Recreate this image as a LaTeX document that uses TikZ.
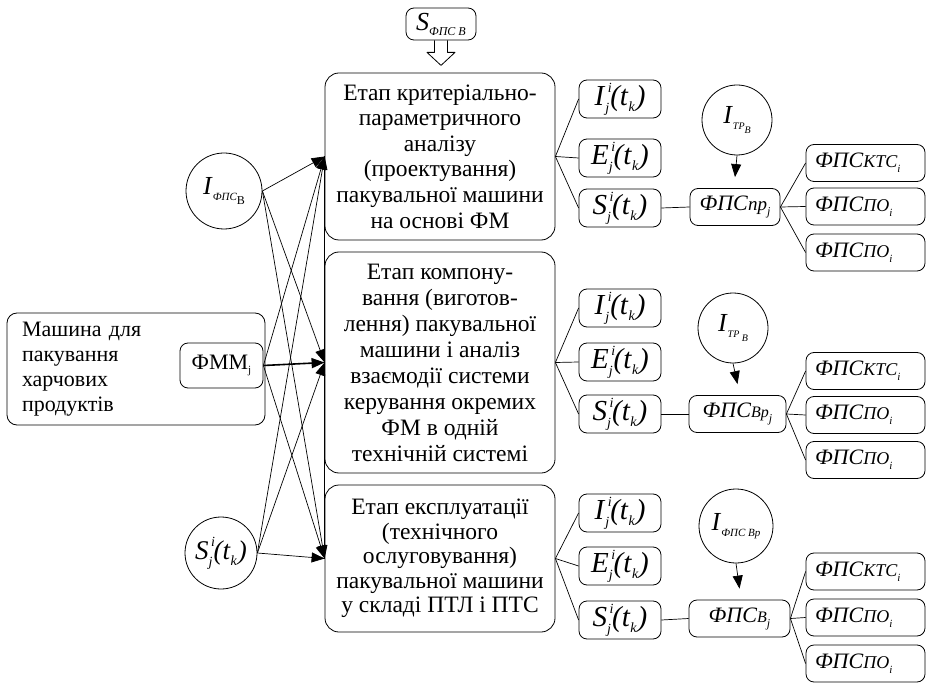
\documentclass[tikz,border=0pt]{standalone}
\usepackage{fontspec}
\setmainfont{Liberation Serif}
\usetikzlibrary{arrows.meta}

% small italic text of a given size
\newcommand{\smit}[2]{{\fontsize{#1}{#1}\selectfont\itshape #2}}
% X^i_j(t_k)
\newcommand{\ijtk}[1]{\textit{#1}\rlap{\kern2.5pt\raisebox{13pt}{\smit{14}{i}}}\raisebox{-7pt}{\smit{14}{j}}\kern1pt\textit{(t}\raisebox{-6pt}{\smit{14}{k}}\kern1pt\textit{)}}

\tikzset{
  box/.style={draw, line width=0.8pt, rounded corners=8pt, inner sep=0pt},
  stagebox/.style={box, rounded corners=14pt, minimum width=230, align=center,
                   font=\fontsize{23.5}{25.6}\selectfont},
  ijbox/.style={box, minimum width=82, minimum height=38, font=\fontsize{29}{29}\selectfont},
  fpsbox/.style={box, minimum height=37, font=\fontsize{22}{22}\selectfont},
  outbox/.style={box, minimum width=119, minimum height=37, text width=101, inner xsep=9pt,
                 align=left, font=\fontsize{22}{22}\selectfont},
  circ/.style={draw, line width=0.8pt, circle, inner sep=0pt, font=\fontsize{26}{26}\selectfont},
  conn/.style={line width=0.7pt},
  arr/.style={conn, -{Triangle[length=13pt,width=10pt]}},
}

\begin{document}
\begin{tikzpicture}[x=1pt,y=-1pt,line join=round]
\useasboundingbox (0,0) rectangle (928,684);

% external input from the top
\node[box, minimum width=70, minimum height=32, font=\fontsize{26}{26}\selectfont] (sfps) at (441,24)
  {\textit{S}\raisebox{-5pt}{\smit{12}{ФПС В}}};
\draw[line width=0.8pt] ([xshift=-6.5pt]sfps.south) -- ++(0,12) -- ++(-7.5,0) -- ++(14,13)
  -- ++(14,-13) -- ++(-7.5,0) -- ([xshift=6.5pt]sfps.south);

% three stages
\node[stagebox, minimum height=167] (st1) at (440,156.5)
  {Етап критеріально-\\параметричного\\аналізу\\(проектування)\\пакувальної машини\\на основі ФМ};
\node[stagebox, minimum height=221, font=\fontsize{23.5}{26}\selectfont] (st2) at (440,362.5)
  {Етап компону-\\вання (виготов-\\лення) пакувальної\\машини і аналіз\\взаємодії системи\\керування окремих\\ФМ в одній\\технічній системі};
\node[stagebox, minimum height=147, font=\fontsize{23.5}{24.5}\selectfont] (st3) at (440,558.5)
  {Етап експлуатації\\(технічного\\ослуговування)\\пакувальної машини\\у складі ПТЛ і ПТС};

% machine and its inputs
\node[box, rounded corners=10pt, minimum width=258, minimum height=112, text width=228,
      inner xsep=15pt, align=left, font=\fontsize{22}{25}\selectfont] (mach) at (136,369)
  {Машина для\\пакування\\харчових\\продуктів};
\node[box, minimum width=83, minimum height=45, font=\fontsize{22}{22}\selectfont] (fmm) at (221.5,365.5)
  {ФММ\raisebox{-4pt}{\fontsize{11}{11}\selectfont j}};
\node[circ, minimum size=76] (ifps) at (224,191)
  {\textit{I}\raisebox{-6pt}{\smit{11}{ФПС}}\raisebox{-10pt}{\fontsize{12}{12}\selectfont В}};
\node[circ, minimum size=72, font=\fontsize{27}{27}\selectfont] (sc) at (221,553) {\ijtk{S}};

% connections into the stages
\draw[conn] (st1.west) -- (st3.west);
\foreach \t in {st1,st2,st3} {
  \draw[arr] (ifps.east) -- (\t.west);
  \draw[arr] (sc.east) -- (\t.west);
}
\draw[arr] (fmm.east) -- (st1.west);
\draw[arr] (fmm.east) -- (st3.west);
\draw[arr, line width=1.6pt] (fmm.east) -- (st2.west);

% stage outputs
\foreach \g/\yi/\ye/\ys in {1/99/158/208, 2/308/362/414, 3/513/566/620} {
  \node[ijbox] (i\g) at (620,\yi) {\ijtk{I}};
  \node[ijbox] (e\g) at (620,\ye) {\ijtk{E}};
  \node[ijbox] (s\g) at (620,\ys) {\ijtk{S}};
  \draw[conn] (st\g.east) -- (i\g.west);
  \draw[conn] (st\g.east) -- (e\g.west);
  \draw[conn] (st\g.east) -- (s\g.west);
}

% functional subsystems
\node[fpsbox, minimum width=90] (fp1) at (735,207)
  {\textit{ФПС}\smit{19}{пр}\raisebox{-5pt}{\smit{12}{j}}};
\node[fpsbox, minimum width=97] (fp2) at (737.5,414)
  {\textit{ФПС}\smit{16}{Вр}\raisebox{-5pt}{\smit{12}{j}}};
\node[fpsbox, minimum width=101] (fp3) at (739.5,618.5)
  {\textit{ФПС}\smit{16}{В}\raisebox{-5pt}{\smit{12}{j}}};

\node[circ, minimum size=70] (c1) at (737,120)
  {\textit{I}\raisebox{-6pt}{\smit{10}{ТР}}\raisebox{-10pt}{\smit{10}{В}}};
\node[circ, minimum size=70] (c2) at (733,328)
  {\textit{I}\raisebox{-6pt}{\smit{10}{ТР}}\raisebox{-10pt}{\smit{10}{ В}}};
\node[circ, minimum size=74] (c3) at (736,526)
  {\textit{I}\raisebox{-6pt}{\smit{11}{ФПС Вр}}};

\foreach \g in {1,2,3} {
  \draw[conn] (s\g.east) -- (fp\g.west);
  \draw[arr] (c\g.south) -- ([yshift=11pt]fp\g.north);
}

\foreach \g/\ya/\yb/\yc in {1/163/206.5/252.5, 2/371/415/460, 3/571.5/617.5/663.5} {
  \node[outbox] (k\g) at (865.5,\ya) {\textit{ФПС}\smit{18}{КТС}\raisebox{-5pt}{\smit{11}{i}}};
  \node[outbox] (p\g) at (865.5,\yb) {\textit{ФПС}\smit{18}{ПО}\raisebox{-5pt}{\smit{11}{i}}};
  \node[outbox] (q\g) at (865.5,\yc) {\textit{ФПС}\smit{18}{ПО}\raisebox{-5pt}{\smit{11}{i}}};
  \draw[conn] (fp\g.east) -- (k\g.west);
  \draw[conn] (fp\g.east) -- (p\g.west);
  \draw[conn] (fp\g.east) -- (q\g.west);
}
\end{tikzpicture}
\end{document}
